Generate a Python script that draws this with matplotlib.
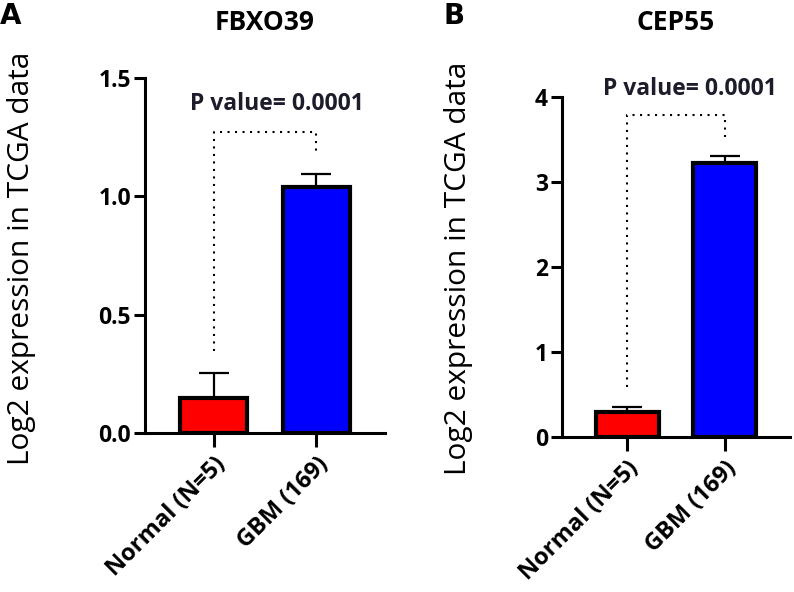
import numpy as np
import matplotlib
matplotlib.use("Agg")
import matplotlib.pyplot as plt

plt.rcParams['font.family'] = ['Open Sans', 'DejaVu Sans']

# ---- data ----
groups = ["Normal (N=5)", "GBM (169)"]
colors = ["#ff0000", "#0000ff"]

fbxo39_mean = [0.15, 1.04]
fbxo39_err = [0.105, 0.055]
fbxo39_bracket = [0.345, 1.27, 1.18]   # left foot, top, right foot

cep55_mean = [0.30, 3.22]
cep55_err = [0.05, 0.085]
cep55_bracket = [0.59, 3.79, 3.53]

p_text = "P value= 0.0001"

fig = plt.figure(figsize=(7.94, 5.92), dpi=100)

def panel(rect, mean, err, bracket, ymax, yticks, yticklabels, title, letter,
          letter_x, ptext_x, ptext_y, label_xy):
    ax = fig.add_axes(rect)
    x = np.arange(len(groups))
    ax.errorbar(x, mean, yerr=[np.zeros(len(err)), err], fmt='none', ecolor='black',
                elinewidth=1.6, capsize=11, capthick=1.6, zorder=1)
    ax.bar(x, mean, width=0.65, color=colors, edgecolor='black', linewidth=3, zorder=2)
    # significance bracket
    ax.plot([0, 0, 1, 1], [bracket[0], bracket[1], bracket[1], bracket[2]],
            color='black', lw=1.5, linestyle=(0, (1, 2.6)), zorder=3)
    ax.text(ptext_x, ptext_y, p_text, ha='center', va='center', fontsize=16.5,
            fontweight='bold', color='#1c1c2a', clip_on=False)
    ax.set_xlim(-0.67, 1.67)
    ax.set_ylim(0, ymax)
    ax.set_yticks(yticks)
    ax.set_yticklabels(yticklabels)
    ax.set_xticks(x)
    ax.set_xticklabels(groups, rotation=45, ha='right', rotation_mode='anchor')
    for s in ['top', 'right']:
        ax.spines[s].set_visible(False)
    for s in ['left', 'bottom']:
        ax.spines[s].set_linewidth(2.2)
    ax.tick_params(axis='y', length=8, width=2.2, labelsize=16.5, pad=2)
    ax.tick_params(axis='x', length=10, width=2.2, labelsize=17, pad=4)
    for lab in ax.get_yticklabels() + ax.get_xticklabels():
        lab.set_fontweight('bold')
    ax.set_ylabel("Log2 expression in TCGA data", fontsize=21.5)
    ax.yaxis.set_label_coords(*label_xy)
    fig.text(rect[0] + rect[2] * 0.5, 1 - 22 / 592, title, ha='center', va='center',
             fontsize=19, fontweight='bold')
    fig.text(letter_x, 1 - 16 / 592, letter, ha='left', va='center',
             fontsize=20, fontweight='bold', family='DejaVu Sans')
    return ax

axA = panel([145 / 794, 1 - 433 / 592, 240 / 794, 355 / 592],
            fbxo39_mean, fbxo39_err, fbxo39_bracket, 1.5,
            [0.0, 0.5, 1.0, 1.5], ["0.0", "0.5", "1.0", "1.5"],
            "FBXO39", "A", 0.0, 0.62, 1.39, (-0.454, 0.493))
axB = panel([562 / 794, 1 - 437 / 592, 228 / 794, 340 / 592],
            cep55_mean, cep55_err, cep55_bracket, 4,
            [0, 1, 2, 3, 4], ["0", "1", "2", "3", "4"],
            "CEP55", "B", 444 / 794, 0.64, 4.1, (-0.39, 0.497))

fig.savefig("out.png", dpi=100)
